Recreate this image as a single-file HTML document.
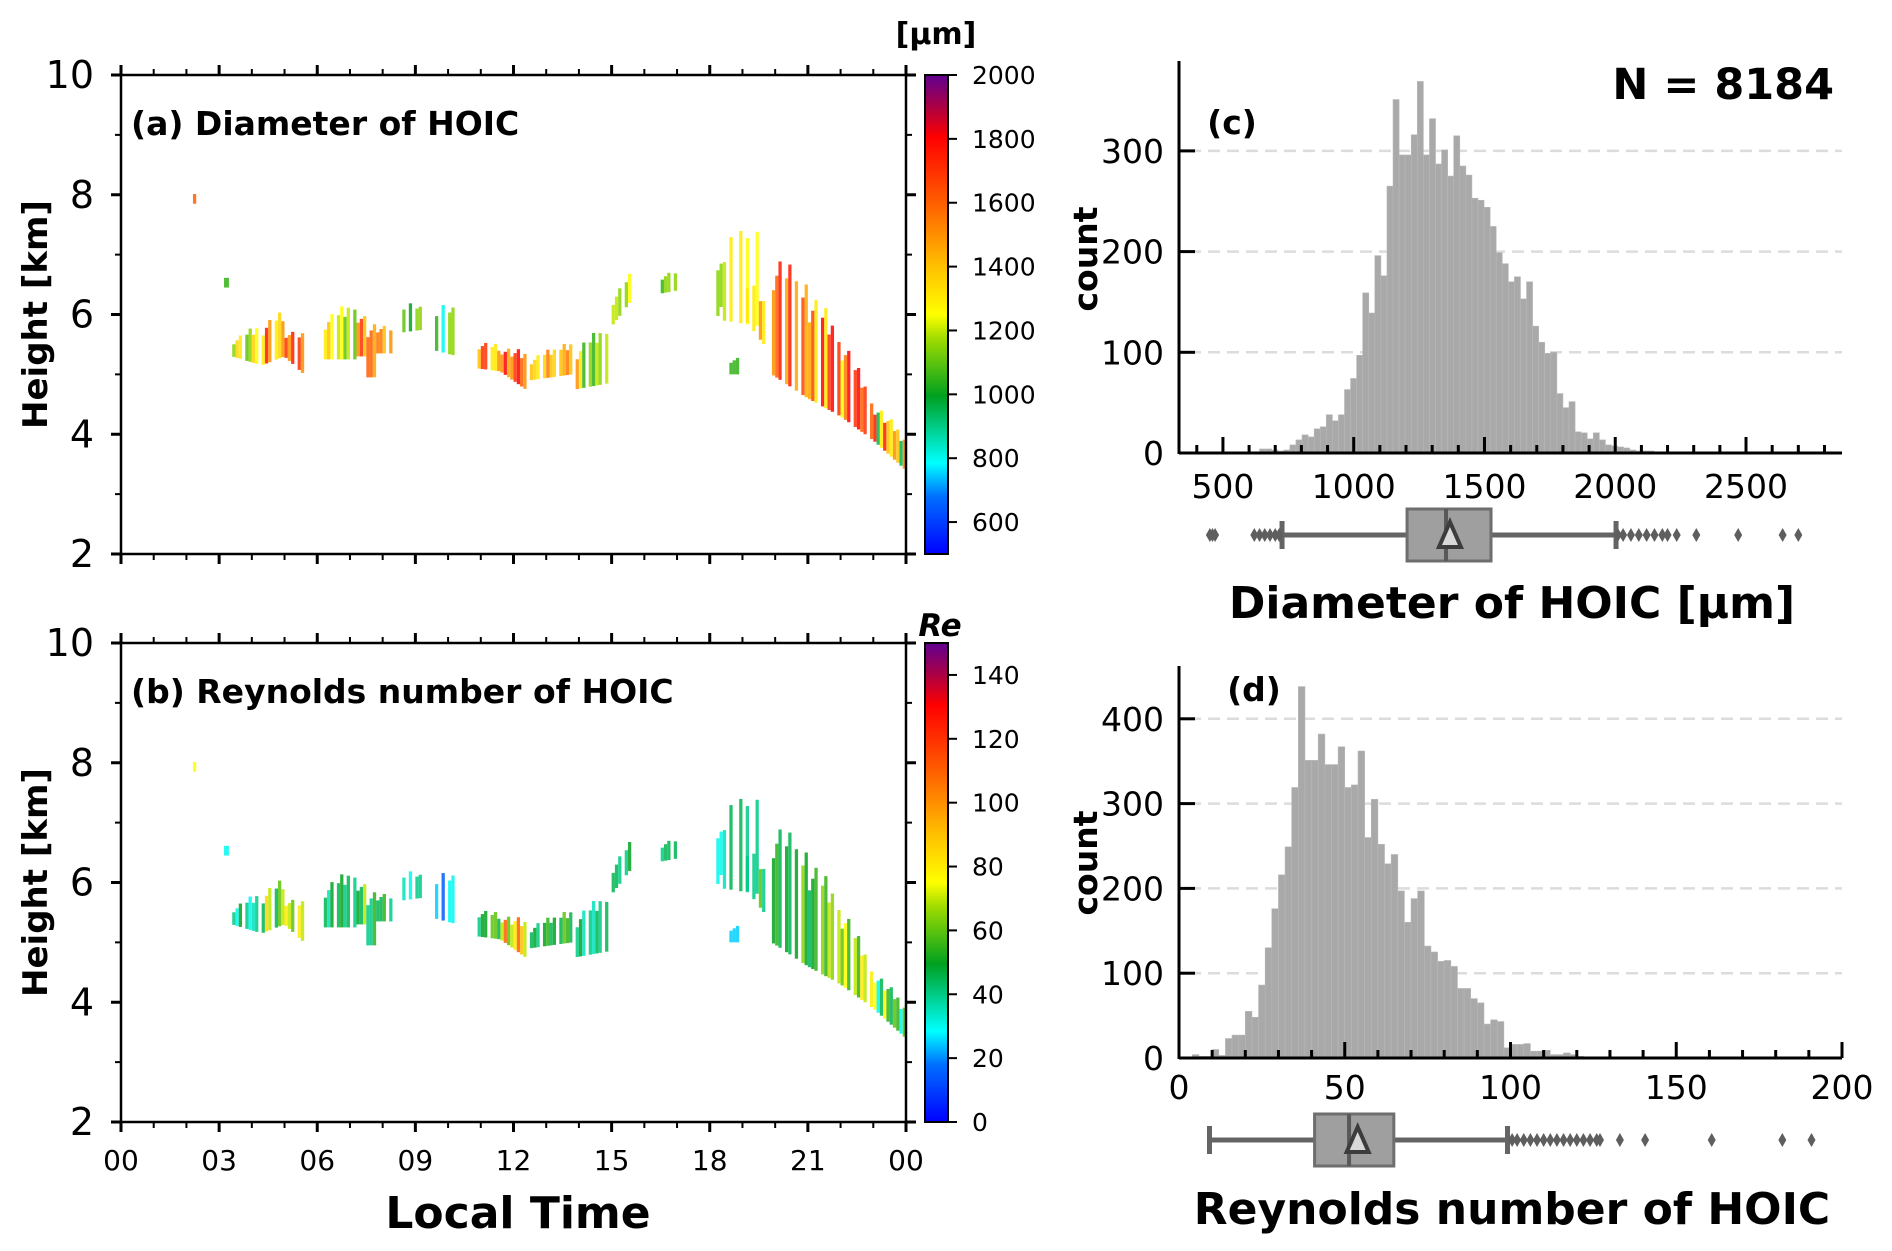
<!DOCTYPE html>
<html><head><meta charset="utf-8"><style>
html,body{margin:0;padding:0;background:#fff}
svg{display:block}
text{font-family:"DejaVu Sans","Liberation Sans",sans-serif}
</style></head><body>
<svg id="fig" width="1892" height="1251" viewBox="0 0 1892 1251" xmlns="http://www.w3.org/2000/svg">
<rect width="1892" height="1251" fill="#fff"/>
<defs>
<linearGradient id="cmapGrad" x1="0" y1="1" x2="0" y2="0">
<stop offset="0" stop-color="#0000ff"/><stop offset="0.12" stop-color="#0070ff"/>
<stop offset="0.19" stop-color="#00ffff"/><stop offset="0.33" stop-color="#00a020"/>
<stop offset="0.45" stop-color="#a0dc00"/><stop offset="0.5" stop-color="#ffff00"/>
<stop offset="0.6" stop-color="#ffc000"/><stop offset="0.73" stop-color="#ff6000"/>
<stop offset="0.87" stop-color="#ff0000"/><stop offset="0.93" stop-color="#b00040"/>
<stop offset="1" stop-color="#600090"/>
</linearGradient>
</defs>
<g id="layer"></g>
</svg>
<script>
// ---------- data ----------
const segT0 = [2.2,3.15,3.4,4.3,5.0,6.2,7.2,7.5,7.8,8.6,9.6,10.9,11.6,12.5,13.9,15.0,16.5,18.2,18.4,18.6,19.1,19.9,21.0,22.0,23.0];
const segT1 = [2.3,3.3,4.3,5.0,5.6,7.2,7.5,7.8,8.3,9.3,10.3,11.6,12.5,13.8,14.9,15.7,17.0,18.4,19.6,18.9,19.8,21.0,22.0,23.0,24.0];
const segB0 = [7.85,6.45,5.3,5.15,5.3,5.25,5.3,4.95,5.35,5.7,5.4,5.1,5.05,4.9,4.75,5.8,6.35,5.9,5.9,5.0,5.9,5.0,4.6,4.3,3.9];
const segB1 = [7.85,6.45,5.15,5.3,5.0,5.25,5.3,4.95,5.35,5.75,5.3,5.05,4.7,5.0,4.85,6.3,6.4,6.2,5.8,5.0,5.4,4.6,4.3,3.9,3.4];
const segTop0 = [8.1,6.7,5.6,5.9,5.8,6.0,6.2,6.0,5.9,6.3,6.3,5.6,5.5,5.3,5.5,6.3,6.7,7.2,7.4,5.3,6.8,7.2,6.6,5.8,4.6];
const segTop1 = [8.1,6.7,5.9,6.1,5.7,6.3,6.0,5.9,5.8,6.1,6.1,5.5,5.4,5.6,5.9,6.8,6.75,7.0,7.5,5.3,6.1,6.6,5.8,4.6,4.0];
const segDensity = [1,1,0.85,0.85,0.85,0.75,0.75,0.75,0.75,0.55,0.55,0.85,0.9,0.8,0.75,0.65,0.75,0.55,0.4,0.65,0.55,0.7,0.75,0.85,0.95];
const diamVals = [[1600],[1050],[1150,1300,1250,1100,1350,1200],[1300,1250,1500,1350,1750],[1700,1600,1400,1750,1500],
 [1300,1100,1250,1400,1200],[1500,1700,1400],[1600,1450],[1550,1400,1500],[1100,1050,1150,1000],[1050,900,1150,800],
 [1400,1500,1300,1700],[1500,1600,1450,1800,1700],[1400,1300,1550,1350,1450],[1500,1200,1050,1300,1150],[1200,1150,1250],
 [1050,1150],[1150,1700],[1200,1100,1300,1050,1250],[1050],[1300,1500],[1500,1650,1750,1600,1450],
 [1450,1700,1300,1650,1800],[1250,1600,1800,1550,1700],[1750,1500,1300,950,1400]];
const reVals = [[75],[30],[40,35,50,30,40],[45,35,70,60,85],[80,45,75,60,70],[45,40,50,35,45],[50,45,70],[40,55],[45,55,40],
 [35,30,40,30],[25,20,30,15],[40,45,60,50],[70,90,60,110,80],[45,40,55,50,60],[40,45,35,50,40],[45,40,50],[40,45],[30,40],
 [35,30,45,30,40],[25],[40,60],[50,65,45,55,50],[45,70,55,50,65],[60,80,55,75,70],[75,60,45,30,55]];
const diamTicks = [600,800,1000,1200,1400,1600,1800,2000];
const reTicks = [0,20,40,60,80,100,120,140];
const timeTicks = ["00","03","06","09","12","15","18","21","00"];
const heightTicks = [2,4,6,8,10];
// histogram (c)
const diamBinStart = 640, diamBinWidth = 23.2;
const diamCounts = [4,4,3,2,3,8,13,18,16,24,26,38,32,38,63,74,97,159,139,196,176,265,351,296,296,316,369,296,332,287,301,275,315,285,276,253,251,244,225,199,188,170,175,153,170,126,110,99,100,59,45,51,21,20,14,20,13,8,7,6,5,3,2,2,2,1,1];
const diamBox = {q1:1204, med:1353, q3:1525, mean:1368, wlo:726, whi:2003};
const diamOutliers = [450,460,470,620,640,660,680,700,715,2010,2030,2060,2090,2120,2150,2180,2200,2235,2310,2470,2640,2700];
// histogram (d)
const reBinStart = 4, reBinWidth = 2;
const reCounts = [4,2,2,10,3,23,27,27,55,48,86,130,176,216,249,319,438,351,351,382,346,346,367,319,322,362,260,305,252,229,240,197,160,188,197,132,125,114,115,108,82,82,70,65,40,45,43,12,16,16,17,8,8,9,4,4,6,4,2,1,1,1,1];
const reBox = {q1:40.9, med:51.3, q3:64.8, mean:53.9, wlo:9.2, whi:99.1};
const reOutliers = [100.5,102,104,106,108,110,112,114,116,118,120,122,124,126,127,133,140.6,160.7,182,190.8];

// ---------- helpers ----------
const NS="http://www.w3.org/2000/svg";
const layer=document.getElementById('layer');
function mk(tag,attrs,parent){const e=document.createElementNS(NS,tag);for(const k in attrs)e.setAttribute(k,attrs[k]);(parent||layer).appendChild(e);return e;}
const stops=[[0,[0,0,255]],[0.12,[0,112,255]],[0.19,[0,255,255]],[0.33,[0,160,32]],[0.45,[160,220,0]],[0.5,[255,255,0]],[0.6,[255,192,0]],[0.73,[255,96,0]],[0.87,[255,0,0]],[0.93,[176,0,64]],[1,[96,0,144]]];
function cmap(f){f=Math.max(0,Math.min(1,f));for(let i=1;i<stops.length;i++){if(f<=stops[i][0]){const a=stops[i-1],b=stops[i];const t=(f-a[0])/(b[0]-a[0]);const c=a[1].map((v,j)=>Math.round(v+(b[1][j]-v)*t));return `rgb(${c[0]},${c[1]},${c[2]})`;}}return 'rgb(96,0,144)';}

// ---------- heatmap panels ----------
function panel(top,vals,vmin,vmax,cticks,label,nameP){
  const L=121,R=906,T=top,B=top+479;
  const xs=t=>L+(t/24)*(R-L);
  const ys=h=>B-(h-2)/8*(B-T);
  const g=mk('g',{});
  
  
  for(let s=0;s<segT0.length;s++){
    const v=vals[s];const dt=0.1;
    const n=Math.max(1,Math.round((segT1[s]-segT0[s])/dt));
    const dens=segDensity[s];
    for(let k=0;k<n;k++){
      if(n>2 && ((k*0.618)%1) > dens) continue;
      const f=(k+0.5)/n;
      const t=segT0[s]+k*(segT1[s]-segT0[s])/n;
      const b=segB0[s]+(segB1[s]-segB0[s])*f, tp=segTop0[s]+(segTop1[s]-segTop0[s])*f;
      const val=v[(k*3+Math.floor(f*v.length))%v.length];
      const hfrac = 0.65 + 0.35*((k*0.382)%1);
      const topUse = b + (tp-b)*hfrac;
      const r=mk('rect',{x:xs(t),y:ys(topUse),width:(R-L)/24*(segT1[s]-segT0[s])/n,height:ys(b)-ys(topUse),fill:cmap((val-vmin)/(vmax-vmin)),'fill-opacity':0.85},g);
      
      
    }
  }
  const fr=mk('rect',{x:L,y:T,width:R-L,height:B-T,fill:'none',stroke:'#000','stroke-width':2.5},g);
  
  
  for(let h=0;h<=24;h++){const maj=h%3===0;const len=maj?10:6;const x=xs(h);
    mk('line',{x1:x,y1:T,x2:x,y2:T-len,stroke:'#000','stroke-width':maj?3:2},g);
    mk('line',{x1:x,y1:B,x2:x,y2:B+len,stroke:'#000','stroke-width':maj?3:2},g);}
  for(let h=2;h<=10;h++){const maj=h%2===0;const len=maj?10:6;const y=ys(h);
    mk('line',{x1:L,y1:y,x2:L-len,y2:y,stroke:'#000','stroke-width':maj?3:2},g);
    mk('line',{x1:R,y1:y,x2:R+len,y2:y,stroke:'#000','stroke-width':maj?3:2},g);}
  heightTicks.forEach(h=>{const t=mk('text',{x:94,y:ys(h)+13,'font-size':38,'text-anchor':'end'},g);t.textContent=h;
    });
  if(nameP.startsWith('reynolds')){timeTicks.forEach((s,i)=>{const t=mk('text',{x:xs(i*3),y:1170,'font-size':28,'text-anchor':'middle'},g);t.textContent=s;
    });}
  const yl=mk('text',{x:0,y:0,'font-size':34,'font-weight':'bold','text-anchor':'middle',transform:`translate(47,${(T+B)/2}) rotate(-90)`},g);
  yl.textContent='Height [km]';
  const pl=mk('text',{x:131,y:T+60,'font-size':33,'font-weight':'bold'},g);pl.textContent=label;
  
  const cb=mk('rect',{x:925,y:T,width:23,height:B-T,fill:'url(#cmapGrad)',stroke:'#000','stroke-width':2},g);
  
  cticks.forEach(v=>{const y=B-(v-vmin)/(vmax-vmin)*(B-T);
    mk('line',{x1:948,y1:y,x2:957,y2:y,stroke:'#000','stroke-width':2},g);
    const t=mk('text',{x:972,y:y+9,'font-size':25},g);t.textContent=v;
    });
}
panel(75,diamVals,500,2000,diamTicks,'(a) Diameter of HOIC','diameter-timeheight');
panel(643,reVals,0,150,reTicks,'(b) Reynolds number of HOIC','reynolds-timeheight');
{const t=mk('text',{x:936,y:44,'font-size':30,'font-weight':'bold','text-anchor':'middle'});t.textContent='[μm]';
}
{const t=mk('text',{x:940,y:636,'font-size':31,'font-weight':'bold','font-style':'italic','text-anchor':'middle'});t.textContent='Re';
}
{const t=mk('text',{x:518,y:1228,'font-size':44,'font-weight':'bold','text-anchor':'middle'});t.textContent='Local Time';
}

// ---------- histograms ----------
function hist(o){
  const xs=v=>o.L+(v-o.x0)/(o.x1-o.x0)*(o.R-o.L);
  const ys=c=>o.B-c*o.py;
  const g=mk('g',{});
  
  
  o.grid.forEach(c=>{if(c>0)mk('line',{x1:o.L+10,y1:ys(c),x2:o.R,y2:ys(c),stroke:'#dcdcdc','stroke-width':2.5,'stroke-dasharray':'12,7'},g);});
  o.counts.forEach((c,i)=>{const x=xs(o.bs+i*o.bw),w=xs(o.bs+(i+1)*o.bw)-x;
    const r=mk('rect',{x:x,y:ys(c),width:w,height:c*o.py,fill:'#a9a9a9',stroke:'#b8b8b8','stroke-width':0.6},g);
    });
  mk('line',{x1:o.L,y1:o.T,x2:o.L,y2:o.B+1,stroke:'#000','stroke-width':3},g);
  mk('line',{x1:o.L,y1:o.B,x2:o.R,y2:o.B,stroke:'#000','stroke-width':3},g);
  for(let v=o.minorStart;v<=o.x1;v+=o.minor){const maj=Math.abs(v/o.major-Math.round(v/o.major))<1e-6;
    mk('line',{x1:xs(v),y1:o.B,x2:xs(v),y2:o.B-(maj?16:8),stroke:'#000','stroke-width':3},g);}
  o.xticks.forEach(v=>{const t=mk('text',{x:xs(v),y:o.xly,'font-size':33,'text-anchor':'middle'},g);t.textContent=v;
    });
  o.grid.forEach(c=>{mk('line',{x1:o.L,y1:ys(c),x2:o.L+16,y2:ys(c),stroke:'#000','stroke-width':3},g);
    const t=mk('text',{x:o.L-15,y:ys(c)+12,'font-size':33,'text-anchor':'end'},g);t.textContent=c;
    });
  const yl=mk('text',{x:0,y:0,'font-size':33,'font-weight':'bold','text-anchor':'middle',transform:`translate(1097,${o.cy}) rotate(-90)`},g);
  yl.textContent='count';
  const pl=mk('text',{x:o.plx,y:o.ply,'font-size':33,'font-weight':'bold','text-anchor':'middle'},g);pl.textContent=o.plabel;
  
  const bx=o.box,cy=o.boxY,hh=26,col='#646464';
  const bg=mk('g',{},g);
  mk('line',{x1:xs(bx.wlo),y1:cy,x2:xs(bx.q1),y2:cy,stroke:col,'stroke-width':5},bg);
  mk('line',{x1:xs(bx.q3),y1:cy,x2:xs(bx.whi),y2:cy,stroke:col,'stroke-width':5},bg);
  mk('line',{x1:xs(bx.wlo),y1:cy-14,x2:xs(bx.wlo),y2:cy+14,stroke:col,'stroke-width':5},bg);
  mk('line',{x1:xs(bx.whi),y1:cy-14,x2:xs(bx.whi),y2:cy+14,stroke:col,'stroke-width':5},bg);
  mk('rect',{x:xs(bx.q1),y:cy-hh,width:xs(bx.q3)-xs(bx.q1),height:2*hh,fill:'#9f9f9f',stroke:'#6e6e6e','stroke-width':3},bg);
  mk('line',{x1:xs(bx.med),y1:cy-hh,x2:xs(bx.med),y2:cy+hh,stroke:'#585858','stroke-width':4},bg);
  const mx=xs(bx.mean);
  mk('polygon',{points:`${mx},${cy-13} ${mx-11},${cy+12} ${mx+11},${cy+12}`,fill:'#d8d8d8',stroke:'#3c3c3c','stroke-width':4},bg);
  o.outl.forEach(v=>{const x=xs(v);const d=mk('polygon',{points:`${x},${cy-7} ${x+4},${cy} ${x},${cy+7} ${x-4},${cy}`,fill:'#5e5e5e'},bg);
    });
  const xl=mk('text',{x:1512,y:o.xty,'font-size':44,'font-weight':'bold','text-anchor':'middle'},g);xl.textContent=o.xtitle;
  
}
hist({name:'diameter-histogram',L:1179,R:1842,T:61,B:453,x0:332,x1:2867,py:1.007,counts:diamCounts,bs:diamBinStart,bw:diamBinWidth,
  grid:[0,100,200,300],minorStart:400,minor:100,major:500,xticks:[500,1000,1500,2000,2500],xly:498,cy:259,plx:1232,ply:134,plabel:'(c)',
  box:diamBox,boxY:535,outl:diamOutliers,xty:618,xtitle:'Diameter of HOIC [μm]'});
hist({name:'reynolds-histogram',L:1179,R:1842,T:666,B:1058,x0:0,x1:200,py:0.848,counts:reCounts,bs:reBinStart,bw:reBinWidth,
  grid:[0,100,200,300,400],minorStart:0,minor:10,major:50,xticks:[0,50,100,150,200],xly:1099,cy:863,plx:1254,ply:701,plabel:'(d)',
  box:reBox,boxY:1140,outl:reOutliers,xty:1224,xtitle:'Reynolds number of HOIC'});
{const t=mk('text',{x:1834,y:99,'font-size':43,'font-weight':'bold','text-anchor':'end'});t.textContent='N = 8184';
}
</script>
</body></html>
